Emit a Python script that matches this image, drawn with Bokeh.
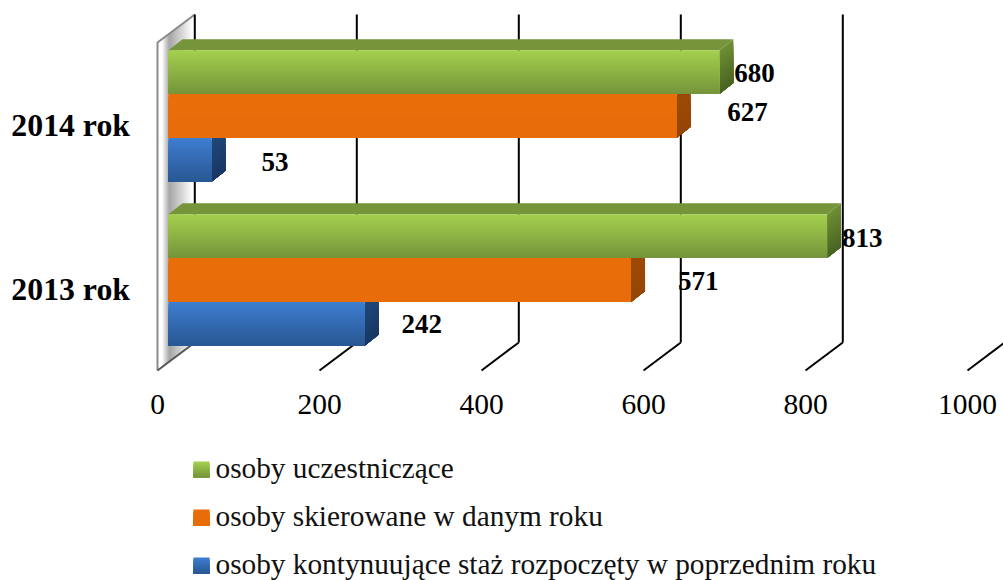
from bokeh.plotting import figure
from bokeh.models import FixedTicker, LinearAxis
from bokeh.core.properties import value
from bokeh.embed import file_html
from bokeh.resources import INLINE

years = ["2013 rok", "2014 rok"]
series_names = ["osoby kontynuujące staż rozpoczęty w poprzednim roku",
                "osoby skierowane w danym roku",
                "osoby uczestniczące"]
kontynuujace = [242, 53]
skierowane = [571, 627]
uczestniczace = [813, 680]
series_values = [kontynuujace, skierowane, uczestniczace]
x_ticks = [0, 200, 400, 600, 800, 1000]

# label placement (px to the right of the bar end), per series/year
label_dx = [[37, 50], [47, 51], [15, 15]]
label_dy = [[0, 2], [1, -4], [2, 1]]

SERIF = "Liberation Serif"
K = 0.81             # px per unit
X0 = 157.0           # ref px of value 0 on the floor's front edge
Y0 = 279.5           # ref px of 2013 group centre
GROUP = 164.0        # px per category
W, H = 1003, 580

def ux(px):  # ref px -> data x
    return (px - X0) / K
def uy(py):  # ref py -> data y
    return (Y0 - py) / GROUP

DX = 14 / K          # bar depth
DY = 11 / GROUP
BAR_X0 = 11 / K      # bar front plane offset
BAR_H = 43.8 / GROUP
BACK_X = 37.3 / K    # wall depth
BACK_Y = 28 / GROUP

p = figure(width=W, height=H, output_backend="svg", toolbar_location=None,
           x_range=(ux(0), ux(W)), y_range=(uy(H), uy(0)),
           min_border=0, min_border_left=0, min_border_right=0,
           min_border_top=0, min_border_bottom=0,
           x_axis_type=None, y_axis_type=None, outline_line_color=None,
           background_fill_color="white", border_fill_color="white")
p.grid.visible = False


def lerp(c1, c2, t):
    return "#%02x%02x%02x" % tuple(round(a + (b - a) * t) for a, b in zip(c1, c2))


def grad_quads(l, r, top, bot, c1, c2, n=22):
    lefts, rights, tops, bots, cols = [], [], [], [], []
    for i in range(n):
        t = i / (n - 1)
        lefts.append(l); rights.append(r)
        tops.append(top + (bot - top) * i / n); bots.append(bot)
        cols.append(lerp(c1, c2, t))
    p.quad(left=lefts, right=rights, top=tops, bottom=bots, fill_color=cols, line_color=None)


def grad_side(x, top, bot, c1, c2, n=14):
    xs, ys, cols = [], [], []
    for i in range(n):
        t = i / (n - 1)
        y = top + (bot - top) * i / n
        xs.append([x, x + DX, x + DX, x]); ys.append([y, y + DY, bot + DY, bot])
        cols.append(lerp(c1, c2, t))
    p.patches(xs, ys, fill_color=cols, line_color=None)


# wall: white at the front edge, a soft grey band, fading to white at the back
wall_b, wall_t = uy(370), uy(42)
wx, wy, wc = [], [], []
n = 24
for i in range(n):
    f = 0.1 + 0.85 * i / n
    if f < 0.3:
        g = (f - 0.1) / 0.2
    else:
        g = max(0.0, 1 - (f - 0.3) / 0.62)
    wx.append([f * BACK_X, BACK_X, BACK_X, f * BACK_X])
    wy.append([wall_b + f * BACK_Y, wall_b + BACK_Y, wall_t + BACK_Y, wall_t + f * BACK_Y])
    wc.append(lerp((255, 255, 255), (165, 165, 165), g))
p.patch([0, BACK_X, BACK_X, 0], [wall_b, wall_b + BACK_Y, wall_t + BACK_Y, wall_t],
        fill_color="white", line_color=None)
p.patches(wx, wy, fill_color=wc, line_color=None)
p.line([BACK_X, 0, 0], [wall_t + BACK_Y, wall_t, wall_b], line_color="#8a8a8a", line_width=2)
p.line([0, BACK_X], [wall_b, wall_b + BACK_Y], line_color="#555555", line_width=2)

# grid: vertical on back wall, diagonal on the floor
gx = [[v + BACK_X, v + BACK_X] for v in x_ticks]
gy = [[uy(342), uy(14)] for v in x_ticks]
dx = [[v, v + BACK_X] for v in x_ticks[1:]]
dy = [[uy(370), uy(342)] for v in x_ticks[1:]]
p.multi_line(gx, gy, line_color="black", line_width=2)
p.multi_line(dx, dy, line_color="black", line_width=2)

front = [((62, 125, 208), (41, 88, 148)), ((233, 109, 9), (232, 108, 9)), ((163, 207, 78), (118, 149, 58))]
side = [((32, 72, 122), (24, 56, 100)), ((156, 74, 6), (150, 70, 5)), ((110, 142, 52), (74, 100, 36))]
top_col = ["#2f6199", "#ad5507", "#76953a"]

for g in (1, 0):
    for s in range(3):
        v = series_values[s][g]
        yc = g + (s - 1) * BAR_H
        t, b = yc + BAR_H / 2, yc - BAR_H / 2
        l, r = BAR_X0, BAR_X0 + v
        grad_side(r, t, b, side[s][0], side[s][1])
        p.patch([l, r, r + DX, l + DX], [t, t, t + DY, t + DY], fill_color=top_col[s], line_color=None)
        grad_quads(l, r, t, b, front[s][0], front[s][1])

# value labels
for g in (1, 0):
    for s in range(3):
        v = series_values[s][g]
        yc = g + (s - 1) * BAR_H
        p.text([BAR_X0 + v], [yc], text=[str(v)], text_font=value(SERIF), text_font_size="27px",
               text_font_style="bold", text_color="black", text_align="left", text_baseline="middle",
               x_offset=label_dx[s][g], y_offset=label_dy[s][g])

# axes
xa = LinearAxis(fixed_location=uy(370), ticker=FixedTicker(ticks=x_ticks),
                axis_line_color=None, major_tick_line_color=None, minor_tick_line_color=None,
                major_label_text_font=SERIF, major_label_text_font_size="29.5px",
                major_label_text_color="black", major_label_standoff=18)
p.add_layout(xa, "below")
cat_ticks = [0 - 9.5 / GROUP, 1 - 9.5 / GROUP]
ya = LinearAxis(fixed_location=ux(137.5), ticker=FixedTicker(ticks=cat_ticks),
                major_label_overrides={cat_ticks[0]: years[0], cat_ticks[1]: years[1]},
                axis_line_color=None, major_tick_line_color=None, minor_tick_line_color=None,
                major_label_text_font=SERIF, major_label_text_font_size="31.8px",
                major_label_text_font_style="bold", major_label_text_color="black",
                major_label_standoff=2)
p.add_layout(ya, "left")

# legend
leg_y = [563.5, 515.5, 467.5]
for s in range(3):
    cy = leg_y[s]
    grad_quads(ux(193), ux(209), uy(cy - 6.5), uy(cy + 9.5), front[s][0], front[s][1], n=12)
    p.text([ux(215)], [uy(cy)], text=[series_names[s]], text_font=value(SERIF), text_font_size="29.3px",
           text_color="#111111", text_align="left", text_baseline="middle")

open("out.html", "w").write(file_html(p, INLINE))
